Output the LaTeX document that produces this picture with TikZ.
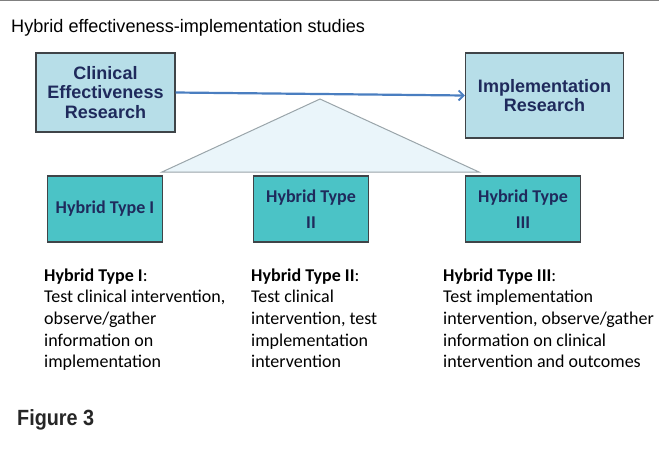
\documentclass[tikz,border=0pt]{standalone}
\usepackage{fontspec}
\setmainfont{Liberation Sans}
\newfontfamily\carlito{Carlito}
\usetikzlibrary{arrows.meta}
\definecolor{navy}{HTML}{1F2A5C}
\definecolor{lightbox}{HTML}{B7DEE8}
\definecolor{tealbox}{HTML}{4BC3C6}
\definecolor{boxborder}{HTML}{3F4448}
\definecolor{trifill}{HTML}{EAF5FA}
\definecolor{triline}{HTML}{9AA5AA}
\definecolor{arrowblue}{HTML}{4A7EC0}
\tikzset{
  resbox/.style={draw=boxborder, line width=1.3pt, fill=lightbox, align=center,
    text=navy, inner sep=0pt, font=\bfseries\fontsize{18}{19.5}\selectfont},
  hybox/.style={draw=boxborder, line width=1.3pt, fill=tealbox, align=center,
    text=navy, inner sep=0pt, minimum width=115pt, minimum height=66pt,
    font=\carlito\bfseries\fontsize{18}{26}\selectfont},
  desc/.style={anchor=base west, align=left, inner sep=0pt,
    font=\carlito\fontsize{18}{21.7}\selectfont},
  flow/.style={draw=arrowblue, line width=2.2pt, -{Straight Barb[length=5pt,width=10pt,line width=1.8pt]}}
}
\begin{document}
\begin{tikzpicture}[x=1pt,y=-1pt]
\useasboundingbox (0,0) rectangle (659,451);
\draw[draw=gray, line width=1.5pt] (0,0.6) coordinate (tl) -- (659,0.6) coordinate (tr);
\node[anchor=base west, inner sep=0pt, font=\fontsize{18.1}{20}\selectfont] (title) at (11,32) {Hybrid effectiveness-implementation studies};
% triangle
\coordinate (apex) at (320,99);
\coordinate (bl) at (162,172);
\coordinate (br) at (479,172);
\draw[fill=trifill, draw=triline, line width=1pt] (apex) -- (bl) -- (br) -- cycle;
% research boxes
\node[resbox, minimum width=139pt, minimum height=79pt] (clin) at (105.5,92.5) {Clinical\\Effectiveness\\Research};
\node[resbox, minimum width=158pt, minimum height=85pt] (impl) at (544.5,95.5) {Implementation\\Research};
\draw[flow] (clin.east) -- (impl.west);
% hybrid boxes
\node[hybox] (h1) at (105,209) {Hybrid Type I};
\node[hybox] (h2) at (311,209) {Hybrid Type\\II};
\node[hybox] (h3) at (523,209) {Hybrid Type\\III};
% descriptions (base anchor = last line baseline)
\node[desc] (d1) at (44,367.8) {\textbf{Hybrid Type I}:\\Test clinical intervention,\\observe/gather\\information on\\implementation};
\node[desc] (d2) at (251,367.8) {\textbf{Hybrid Type II}:\\Test clinical\\intervention, test\\implementation\\intervention};
\node[desc] (d3) at (443,367.8) {\textbf{Hybrid Type III}:\\Test implementation\\intervention, observe/gather\\information on clinical\\intervention and outcomes};
\node[anchor=base west, inner sep=0pt, text={black!85}, font=\bfseries\fontsize{22}{24}\selectfont] (fig) at (17,425) {\scalebox{0.9}[1]{Figure 3}};
\end{tikzpicture}
\end{document}
